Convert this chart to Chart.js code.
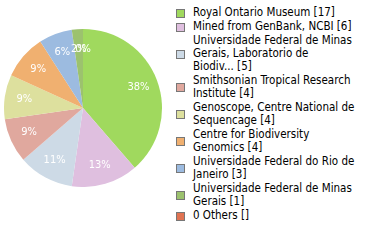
<!DOCTYPE html>
<html>
<head>
    <meta charset="UTF-8">
    <title>Specimen sources</title>
    <script src="https://cdn.jsdelivr.net/npm/chart.js"></script>
    <style>
        body { margin: 0; background: #fff; width: 380px; height: 240px; overflow: hidden; position: relative; }
        #pieChart { position: absolute; left: 4px; top: 29px; }
        #legend { position: absolute; left: 176px; top: 6px; width: 200px;
                  font-family: "DejaVu Sans Condensed", "DejaVu Sans", sans-serif; font-size: 11.5px; color: #000; }
        .item { position: relative; padding-left: 17px; line-height: 13px; margin-bottom: 1px; white-space: pre-line; }
        .box { position: absolute; left: 0; top: 50%; margin-top: -4px; width: 7px; height: 7px; border: 1px solid #777; }
    </style>
</head>
<body>
    <canvas id="pieChart" width="158" height="158"></canvas>
    <div id="legend"></div>

    <script>
        // Sources and record counts (line breaks as in the original legend)
        const labels = [
            "Royal Ontario Museum [17]",
            "Mined from GenBank, NCBI [6]",
            "Universidade Federal de Minas\nGerais, Laboratorio de\nBiodiv... [5]",
            "Smithsonian Tropical Research\nInstitute [4]",
            "Genoscope, Centre National de\nSequencage [4]",
            "Centre for Biodiversity\nGenomics [4]",
            "Universidade Federal do Rio de\nJaneiro [3]",
            "Universidade Federal de Minas\nGerais [1]",
            "0 Others []"
        ];
        const counts = [17, 6, 5, 4, 4, 4, 3, 1, 0];
        const colors = ["#a0d95e", "#dfbfdf", "#cddae6", "#e0a89e", "#dde09e",
                        "#f0b070", "#9cbbe0", "#9cc26e", "#e07352"];

        const total = counts.reduce((a, b) => a + b, 0);

        // Legend as plain HTML
        const legend = document.getElementById("legend");
        labels.forEach((text, i) => {
            const item = document.createElement("div");
            item.className = "item";
            const box = document.createElement("span");
            box.className = "box";
            box.style.background = colors[i];
            item.appendChild(box);
            item.appendChild(document.createTextNode(text));
            legend.appendChild(item);
        });

        // percent labels inside the slices
        const sliceLabels = {
            id: "sliceLabels",
            afterDatasetsDraw(chart) {
                const ctx = chart.ctx;
                const meta = chart.getDatasetMeta(0);
                ctx.save();
                ctx.fillStyle = "#fff";
                ctx.font = '11px "DejaVu Sans Condensed", "DejaVu Sans", sans-serif';
                ctx.textAlign = "center";
                ctx.textBaseline = "middle";
                meta.data.forEach((arc, i) => {
                    const mid = (arc.startAngle + arc.endAngle) / 2;
                    const r = arc.outerRadius * 0.75;
                    const x = arc.x + Math.cos(mid) * r;
                    const y = arc.y + Math.sin(mid) * r;
                    ctx.fillText(Math.floor(counts[i] / total * 100) + "%", x, y);
                });
                ctx.restore();
            }
        };

        new Chart(document.getElementById("pieChart"), {
            type: "pie",
            data: {
                labels: labels,
                datasets: [{
                    data: counts,
                    backgroundColor: colors,
                    borderWidth: 0
                }]
            },
            options: {
                responsive: false,
                animation: false,
                layout: { padding: 0 },
                plugins: {
                    legend: { display: false },
                    tooltip: { enabled: false }
                }
            },
            plugins: [sliceLabels]
        });
    </script>
</body>
</html>
